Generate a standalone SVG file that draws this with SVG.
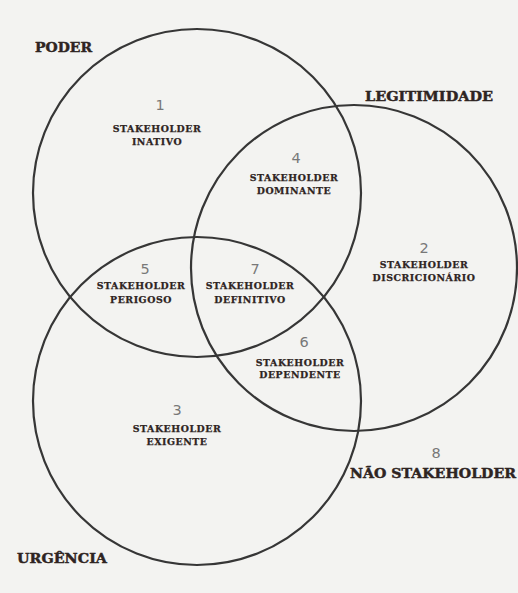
<svg xmlns="http://www.w3.org/2000/svg" width="518" height="593" viewBox="0 0 518 593">
<style>
.c{fill:none;stroke:#363636;stroke-width:2.2}
.t{font-family:"DejaVu Serif","Liberation Serif",serif;font-weight:bold;fill:#2e2422;stroke:#2e2422;text-anchor:middle}
.s{font-size:9.4px;letter-spacing:0.55px;stroke-width:0.25}
.b{font-size:13.5px;stroke-width:0.45}
.n{font-family:"DejaVu Sans","Liberation Sans",sans-serif;font-size:14.5px;fill:#787878;text-anchor:middle}
</style>
<rect width="518" height="593" fill="#f3f3f1"/>
<g id="connectors"></g>
<g id="poder"><circle class="c" cx="197" cy="193" r="164"/><text class="t b" x="63.5" y="52" textLength="57" lengthAdjust="spacingAndGlyphs">PODER</text></g>
<g id="legitimidade"><circle class="c" cx="354" cy="268" r="163"/><text class="t b" x="429" y="101" textLength="128" lengthAdjust="spacingAndGlyphs">LEGITIMIDADE</text></g>
<g id="urgencia"><circle class="c" cx="197" cy="401" r="164"/><text class="t b" x="62" y="563" textLength="90" lengthAdjust="spacingAndGlyphs">URGÊNCIA</text></g>
<g id="r1"><text class="n" x="160" y="110">1</text><text class="t s" x="157" y="132">STAKEHOLDER</text><text class="t s" x="157" y="145">INATIVO</text></g>
<g id="r4"><text class="n" x="296" y="163">4</text><text class="t s" x="294" y="181">STAKEHOLDER</text><text class="t s" x="294" y="194">DOMINANTE</text></g>
<g id="r2"><text class="n" x="424" y="253">2</text><text class="t s" x="424" y="268">STAKEHOLDER</text><text class="t s" x="424" y="281">DISCRICIONÁRIO</text></g>
<g id="r5"><text class="n" x="145" y="274">5</text><text class="t s" x="141" y="289">STAKEHOLDER</text><text class="t s" x="141" y="303">PERIGOSO</text></g>
<g id="r7"><text class="n" x="255" y="274">7</text><text class="t s" x="250" y="289">STAKEHOLDER</text><text class="t s" x="250" y="303">DEFINITIVO</text></g>
<g id="r6"><text class="n" x="304" y="347">6</text><text class="t s" x="300" y="366">STAKEHOLDER</text><text class="t s" x="300" y="378">DEPENDENTE</text></g>
<g id="r3"><text class="n" x="177" y="415">3</text><text class="t s" x="177" y="432">STAKEHOLDER</text><text class="t s" x="177" y="445">EXIGENTE</text></g>
<g id="r8"><text class="n" x="436" y="458">8</text><text class="t b" x="433" y="478" textLength="166" lengthAdjust="spacingAndGlyphs">NÃO STAKEHOLDER</text></g>
</svg>
